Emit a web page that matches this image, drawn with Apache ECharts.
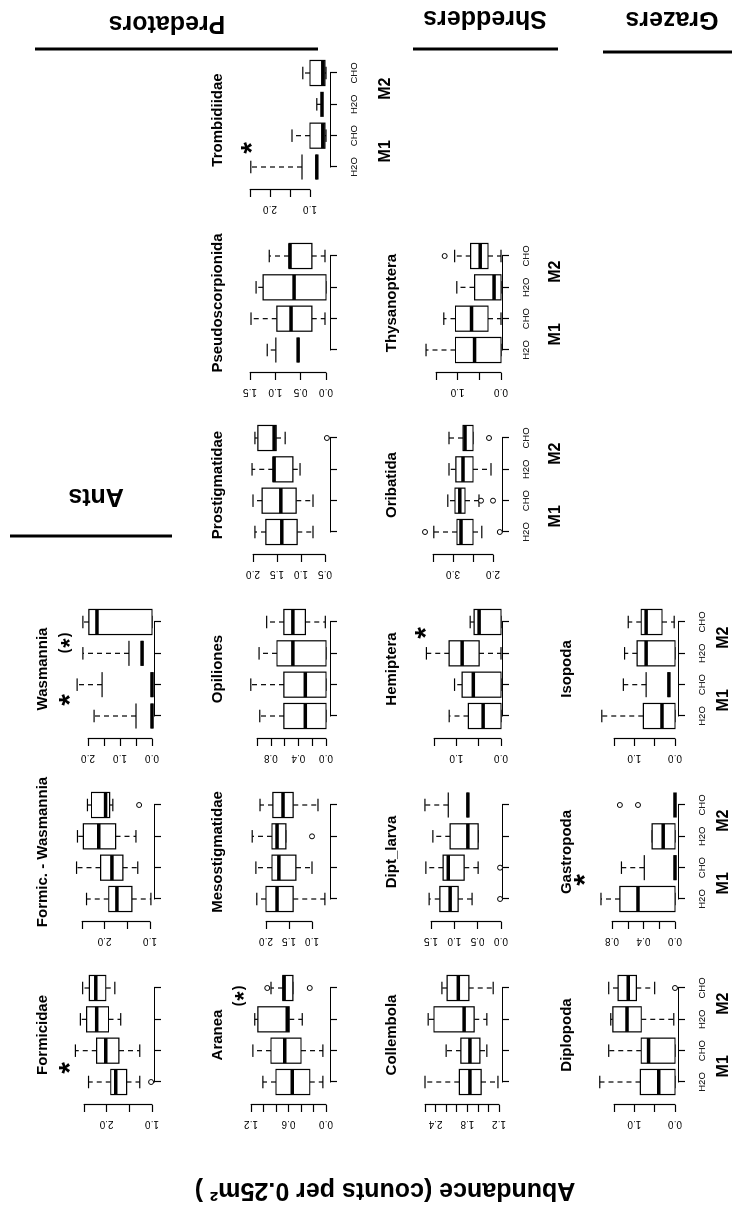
<!DOCTYPE html>
<html><head><meta charset="utf-8">
<script src="https://cdn.jsdelivr.net/npm/echarts@6/dist/echarts.min.js"></script>
<style>
html,body{margin:0;padding:0;width:732px;height:1211px;overflow:hidden;background:#fff;}
#chart{position:absolute;left:0;top:0;width:1211px;height:732px;transform-origin:0 0;transform:translate(0px,1211px) rotate(-90deg);background:#fff;}
</style></head><body><div id="chart"></div>
<script>
// ---------- data ----------
const categories = ['H2O', 'CHO', 'H2O', 'CHO'];
const periods = ['M1', 'M2'];
const groupNames = ['Ants', 'Predators', 'Shredders', 'Grazers'];
const yTitle = 'Abundance (counts per 0.25m\u00B2 )';

// each row: [lower whisker, Q1, median, Q3, upper whisker]; outliers: [category index, value]
const formicidae = [[1.27,1.56,1.80,1.91,2.40],[1.27,1.73,2.02,2.22,2.69],[1.69,1.96,2.22,2.44,2.58],[1.82,2.02,2.24,2.38,2.53]];
const formicidaeOut = [[0,1.02]];
const formicidaeTicks = [1.0,2.5,0.5];
const formicidaeLabels = ['1.0','2.0'];

const formicWasm = [[0.98,1.40,1.73,1.91,2.40],[1.27,1.60,1.84,2.09,2.62],[1.31,1.76,2.13,2.47,2.60],[1.82,1.89,1.98,2.29,2.38]];
const formicWasmOut = [[3,1.24]];
const formicWasmTicks = [1.0,2.5,0.5];
const formicWasmLabels = ['1.0','2.0'];

const wasmannia = [[0,0,0,0.50,1.81],[0,0,0,1.56,2.34],[0.31,0.31,0.31,0.72,2.16],[0,0,1.72,1.97,2.16]];
const wasmanniaOut = [];
const wasmanniaTicks = [0,2.0,0.5];
const wasmanniaLabels = ['0.0','1.0','2.0'];

const aranea = [[0.05,0.26,0.54,0.80,1.01],[0.05,0.40,0.66,0.88,1.17],[0.38,0.59,0.62,1.09,1.14],[0.53,0.53,0.67,0.69,0.88]];
const araneaOut = [[3,0.94],[3,0.26]];
const araneaTicks = [0,1.2,0.2];
const araneaLabels = ['0.0','0.6','1.2'];

const mesostigmatidae = [[0.72,1.41,1.76,2.00,2.20],[1.00,1.35,1.72,1.87,2.22],[1.57,1.57,1.76,1.87,2.30],[0.87,1.41,1.63,1.85,2.13]];
const mesostigmatidaeOut = [[2,1.00]];
const mesostigmatidaeTicks = [1.0,2.0,0.5];
const mesostigmatidaeLabels = ['1.0','1.5','2.0'];

const opiliones = [[0,0,0.30,0.61,0.96],[0,0,0.30,0.61,1.09],[0,0,0.48,0.71,0.97],[0.01,0.30,0.48,0.61,0.86]];
const opilionesOut = [];
const opilionesTicks = [0,1.0,0.2];
const opilionesLabels = ['0.0','0.4','0.8'];

const prostigmatidae = [[0.75,1.08,1.40,1.73,1.96],[0.75,1.10,1.42,1.81,2.00],[1.02,1.17,1.56,1.58,2.02],[1.33,1.52,1.56,1.90,1.96]];
const prostigmatidaeOut = [[3,0.46]];
const prostigmatidaeTicks = [0.5,2.0,0.5];
const prostigmatidaeLabels = ['0.5','1.0','1.5','2.0'];

const pseudoscorpionida = [[0.55,0.55,0.55,0.99,1.16],[0.02,0.28,0.69,0.97,1.48],[0,0,0.63,1.24,1.38],[0.02,0.28,0.71,0.73,1.12]];
const pseudoscorpionidaOut = [];
const pseudoscorpionidaTicks = [0,1.5,0.5];
const pseudoscorpionidaLabels = ['0.0','0.5','1.0','1.5'];

const trombidiidae = [[0.83,0.83,0.83,1.20,2.48],[0.60,0.63,0.68,1.00,1.45],[0.70,0.70,0.70,0.70,0.83],[0.60,0.63,0.68,1.00,1.18]];
const trombidiidaeOut = [];
const trombidiidaeTicks = [1.0,2.5,0.5];
const trombidiidaeLabels = ['1.0','2.0'];

const collembola = [[1.22,1.54,1.75,1.95,2.60],[1.43,1.56,1.75,1.92,2.20],[1.43,1.67,1.86,2.43,2.54],[1.31,1.77,1.97,2.18,2.28]];
const collembolaOut = [];
const collembolaTicks = [1.2,2.6,0.2];
const collembolaLabels = ['1.2','1.8','2.4'];

const diptLarva = [[0.62,0.92,1.09,1.31,1.54],[0.49,0.79,1.13,1.24,1.61],[0.49,0.49,0.71,1.09,1.46],[0.71,0.71,0.71,1.13,1.63]];
const diptLarvaOut = [[0,0.02],[1,0.02]];
const diptLarvaTicks = [0,1.5,0.5];
const diptLarvaLabels = ['0.0','0.5','1.0','1.5'];

const hemiptera = [[0,0,0.40,0.73,1.16],[0,0,0.62,0.87,1.04],[0,0.49,0.87,1.16,1.67],[0,0,0.49,0.60,0.69]];
const hemipteraOut = [];
const hemipteraTicks = [0,1.5,0.5];
const hemipteraLabels = ['0.0','1.0'];

const oribatida = [[2.28,2.50,2.80,2.90,3.48],[2.35,2.70,2.83,2.95,3.13],[2.05,2.50,2.75,2.93,3.10],[2.50,2.50,2.70,2.75,3.10]];
const oribatidaOut = [[0,3.70],[0,1.83],[1,2.30],[1,2.00],[3,2.10]];
const oribatidaTicks = [2.0,3.5,0.5];
const oribatidaLabels = ['2.0','3.0'];

const thysanoptera = [[0,0,0.61,1.05,1.73],[0,0.30,0.68,1.05,1.32],[0,0,0.16,0.61,1.02],[0,0.30,0.48,0.70,1.07]];
const thysanopteraOut = [[3,1.30]];
const thysanopteraTicks = [0,1.5,0.5];
const thysanopteraLabels = ['0.0','1.0'];

const diplopoda = [[0,0,0.40,0.85,1.85],[0,0,0.65,0.83,1.63],[0.03,0.83,1.18,1.53,1.58],[0.50,0.95,1.15,1.40,1.63]];
const diplopodaOut = [[3,0]];
const diplopodaTicks = [0,1.5,0.5];
const diplopodaLabels = ['0.0','1.0'];

const gastropoda = [[0,0,0.47,0.70,0.94],[0,0,0,0.39,0.68],[0,0,0.15,0.29,0.29],[0,0,0,0,0]];
const gastropodaOut = [[3,0.47],[3,0.70]];
const gastropodaTicks = [0,0.8,0.2];
const gastropodaLabels = ['0.0','0.4','0.8'];

const isopoda = [[0,0,0.32,0.78,1.80],[0.15,0.15,0.15,0.71,1.27],[0,0,0.71,0.93,1.24],[0.02,0.32,0.71,0.83,1.15]];
const isopodaOut = [];
const isopodaTicks = [0,1.5,0.5];
const isopodaLabels = ['0.0','1.0'];

// ---------- layout (drawn in landscape, then the page turns it) ----------
const FONT = '"Liberation Sans", Arial, Helvetica, sans-serif';
const colLeft = [129, 312, 495, 679, 861, 1044];
const colWidth = 94;
const rowAxisY = [154, 330, 502, 678];
const rowTitleY = [43, 218, 392, 567];
const rowPeriodOffset = [0, 56, 54, 46];

const panels = [
  {title:'Formicidae', col:0,row:0,top:84,bottom:152, box:formicidae, out:formicidaeOut, ticks:formicidaeTicks, labels:formicidaeLabels, cat:false},
  {title:'Formic. - Wasmannia', col:1,row:0,top:82,bottom:150, box:formicWasm, out:formicWasmOut, ticks:formicWasmTicks, labels:formicWasmLabels, cat:false},
  {title:'Wasmannia', col:2,row:0,top:88,bottom:152, box:wasmannia, out:wasmanniaOut, ticks:wasmanniaTicks, labels:wasmanniaLabels, cat:false},
  {title:'Aranea', col:0,row:1,top:251,bottom:326, box:aranea, out:araneaOut, ticks:araneaTicks, labels:araneaLabels, cat:false},
  {title:'Mesostigmatidae', col:1,row:1,top:266,bottom:312, box:mesostigmatidae, out:mesostigmatidaeOut, ticks:mesostigmatidaeTicks, labels:mesostigmatidaeLabels, cat:false},
  {title:'Opiliones', col:2,row:1,top:257,bottom:326, box:opiliones, out:opilionesOut, ticks:opilionesTicks, labels:opilionesLabels, cat:false},
  {title:'Prostigmatidae', col:3,row:1,top:253,bottom:325, box:prostigmatidae, out:prostigmatidaeOut, ticks:prostigmatidaeTicks, labels:prostigmatidaeLabels, cat:false},
  {title:'Pseudoscorpionida', col:4,row:1,top:250,bottom:326, box:pseudoscorpionida, out:pseudoscorpionidaOut, ticks:pseudoscorpionidaTicks, labels:pseudoscorpionidaLabels, cat:false},
  {title:'Trombidiidae', col:5,row:1,top:250,bottom:310, box:trombidiidae, out:trombidiidaeOut, ticks:trombidiidaeTicks, labels:trombidiidaeLabels, cat:true},
  {title:'Collembola', col:0,row:2,top:425,bottom:499, box:collembola, out:collembolaOut, ticks:collembolaTicks, labels:collembolaLabels, cat:false},
  {title:'Dipt_larva', col:1,row:2,top:431,bottom:501, box:diptLarva, out:diptLarvaOut, ticks:diptLarvaTicks, labels:diptLarvaLabels, cat:false},
  {title:'Hemiptera', col:2,row:2,top:434,bottom:501, box:hemiptera, out:hemipteraOut, ticks:hemipteraTicks, labels:hemipteraLabels, cat:false},
  {title:'Oribatida', col:3,row:2,top:433,bottom:493, box:oribatida, out:oribatidaOut, ticks:oribatidaTicks, labels:oribatidaLabels, cat:true},
  {title:'Thysanoptera', col:4,row:2,top:436,bottom:501, box:thysanoptera, out:thysanopteraOut, ticks:thysanopteraTicks, labels:thysanopteraLabels, cat:true},
  {title:'Diplopoda', col:0,row:3,top:614,bottom:675, box:diplopoda, out:diplopodaOut, ticks:diplopodaTicks, labels:diplopodaLabels, cat:true},
  {title:'Gastropoda', col:1,row:3,top:612,bottom:675, box:gastropoda, out:gastropodaOut, ticks:gastropodaTicks, labels:gastropodaLabels, cat:true},
  {title:'Isopoda', col:2,row:3,top:614,bottom:675, box:isopoda, out:isopodaOut, ticks:isopodaTicks, labels:isopodaLabels, cat:true}
];

// significance marks (text, x, y, size)
const marks = [
  ['*',143,63,30], ['*',511,63,30], ['*',1063,245,30], ['*',578,419,30], ['*',331,578,30]
];
const parenMarks = [[568,65],[215,239]];

// group headers: [name, x, y, lineX, lineY1, lineY2]
const groupLayout = [
  ['Ants',715,96,675,10,172],
  ['Predators',1188,167,1162,35,318],
  ['Shredders',1193,485,1162,413,558],
  ['Grazers',1192,672,1159,603,732]
];

// ---------- build ----------
function fmt(v){ return (Math.round(v*10)/10).toFixed(1); }

function renderBox(params, api){
  const idx = api.value(0);
  const lo = api.value(1), q1 = api.value(2), med = api.value(3), q3 = api.value(4), hi = api.value(5);
  const pMed = api.coord([idx, med]);
  const x = pMed[0];
  const step = Math.abs(api.coord([1, med])[0] - api.coord([0, med])[0]);
  const hw = step * 0.4, sw = hw * 0.5;
  const yLo = api.coord([idx, lo])[1], yQ1 = api.coord([idx, q1])[1];
  const yQ3 = api.coord([idx, q3])[1], yHi = api.coord([idx, hi])[1], yMed = pMed[1];
  const thin = {stroke:'#000', lineWidth:1.2, fill:null};
  const dash = {stroke:'#000', lineWidth:1.2, lineDash:[5,4], fill:null};
  const ch = [];
  if (hi > q3) ch.push({type:'line', shape:{x1:x,y1:yQ3,x2:x,y2:yHi}, style:dash});
  if (lo < q1) ch.push({type:'line', shape:{x1:x,y1:yQ1,x2:x,y2:yLo}, style:dash});
  ch.push({type:'line', shape:{x1:x-sw,y1:yHi,x2:x+sw,y2:yHi}, style:thin});
  ch.push({type:'line', shape:{x1:x-sw,y1:yLo,x2:x+sw,y2:yLo}, style:thin});
  if (q3 > q1) {
    if (med > q1 && med < q3) {
      ch.push({type:'rect', shape:{x:x-hw, y:yQ3, width:2*hw, height:yQ1-yQ3}, style:{stroke:'#000', lineWidth:1.2, fill:'#fff'}});
    } else {
      ch.push({type:'line', shape:{x1:x-hw,y1:yQ3,x2:x+hw,y2:yQ3}, style:thin});
      ch.push({type:'line', shape:{x1:x-hw,y1:yQ1,x2:x+hw,y2:yQ1}, style:thin});
    }
  }
  ch.push({type:'line', shape:{x1:x-hw,y1:yMed,x2:x+hw,y2:yMed}, style:{stroke:'#000', lineWidth:3.5}});
  return {type:'group', children:ch};
}

const grid = [], xAxis = [], yAxis = [], series = [], graphic = [];
const axisLineStyle = {color:'#000', width:1.2};

panels.forEach((p, i) => {
  grid.push({left:colLeft[p.col], top:p.top, width:colWidth, height:p.bottom - p.top, containLabel:false, outerBoundsMode:'none'});
  xAxis.push({
    type:'category', gridIndex:i, data:categories, boundaryGap:false,
    offset: rowAxisY[p.row] - p.bottom,
    axisLine:{show:true, onZero:false, lineStyle:axisLineStyle},
    axisTick:{show:true, length:7, interval:0, lineStyle:axisLineStyle},
    axisLabel:{show:p.cat, interval:0, margin:19, fontSize:9.5, color:'#000', fontFamily:FONT, hideOverlap:false},
    splitLine:{show:false}
  });
  yAxis.push({
    type:'value', gridIndex:i, min:p.ticks[0], max:p.ticks[1], interval:p.ticks[2], offset:23,
    axisLine:{show:true, lineStyle:axisLineStyle},
    axisTick:{show:true, length:7, lineStyle:axisLineStyle},
    splitLine:{show:false},
    axisLabel:{rotate:90, margin:14, fontSize:10, color:'#000', fontFamily:FONT, hideOverlap:false,
      showMinLabel:true, showMaxLabel:true,
      formatter:(v) => { const s = fmt(v); return p.labels.indexOf(s) >= 0 ? s : ''; }}
  });
  series.push({
    type:'custom', xAxisIndex:i, yAxisIndex:i, clip:false, silent:true,
    renderItem:renderBox,
    data:p.box.map((b, k) => [k].concat(b)),
    encode:{x:0, y:[1,2,3,4,5]}, z:2
  });
  if (p.out.length) {
    series.push({
      type:'scatter', xAxisIndex:i, yAxisIndex:i, clip:false, silent:true,
      data:p.out, symbol:'circle', symbolSize:5,
      itemStyle:{color:'#fff', borderColor:'#000', borderWidth:1, opacity:1}, z:3
    });
  }
  graphic.push({type:'text', x:colLeft[p.col] + colWidth/2, y:rowTitleY[p.row], silent:true,
    style:{text:p.title, font:'bold 15px ' + FONT, fill:'#000', align:'center', verticalAlign:'middle'}});
  if (p.cat) {
    const yy = rowAxisY[p.row] + rowPeriodOffset[p.row];
    [1/6, 5/6].forEach((f, k) => {
      graphic.push({type:'text', x:colLeft[p.col] + colWidth*f, y:yy, silent:true,
        style:{text:periods[k], font:'bold 16px ' + FONT, fill:'#000', align:'center', verticalAlign:'middle'}});
    });
  }
});

marks.forEach(m => {
  graphic.push({type:'text', x:m[1], y:m[2] + m[3]*0.25, silent:true,
    style:{text:m[0], font:'bold ' + m[3] + 'px ' + FONT, fill:'#000', align:'center', verticalAlign:'middle'}});
});
parenMarks.forEach(m => {
  graphic.push({type:'text', x:m[0]-8, y:m[1], silent:true, style:{text:'(', font:'bold 14px ' + FONT, fill:'#000', align:'center', verticalAlign:'middle'}});
  graphic.push({type:'text', x:m[0]+8, y:m[1], silent:true, style:{text:')', font:'bold 14px ' + FONT, fill:'#000', align:'center', verticalAlign:'middle'}});
  graphic.push({type:'text', x:m[0], y:m[1] + 6, silent:true, style:{text:'*', font:'bold 24px ' + FONT, fill:'#000', align:'center', verticalAlign:'middle'}});
});

groupLayout.forEach((g, k) => {
  graphic.push({type:'text', x:g[1], y:g[2], rotation:Math.PI/2, silent:true,
    style:{text:groupNames[k], font:'bold 25px ' + FONT, fill:'#000', align:'center', verticalAlign:'middle'}});
  graphic.push({type:'line', silent:true, shape:{x1:g[3], y1:g[4], x2:g[3], y2:g[5]}, style:{stroke:'#000', lineWidth:3}});
});
graphic.push({type:'text', x:21, y:385, rotation:Math.PI/2, silent:true,
  style:{text:yTitle, font:'bold 25px ' + FONT, fill:'#000', align:'center', verticalAlign:'middle'}});

const chart = echarts.init(document.getElementById('chart'), null, {renderer:'canvas', width:1211, height:732});
chart.setOption({
  animation:false,
  backgroundColor:'#fff',
  grid, xAxis, yAxis, series, graphic
});
</script>
</body></html>
